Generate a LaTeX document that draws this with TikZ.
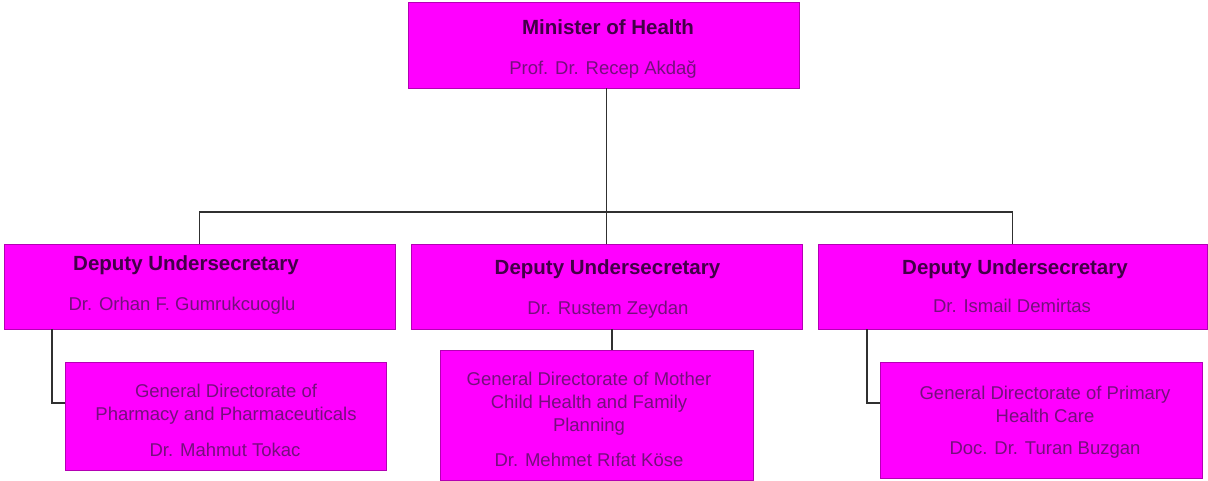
\documentclass[tikz,border=0pt]{standalone}
\usepackage{fontspec}
\setmainfont{Liberation Sans}
\definecolor{boxfill}{HTML}{FF00FF}
\definecolor{boxline}{HTML}{B400B4}
\definecolor{headtext}{HTML}{420048}
\definecolor{nametext}{HTML}{74107C}
\definecolor{wire}{HTML}{303030}
\tikzset{
  unit/.style={draw=boxline, line width=0.8pt, fill=boxfill, inner sep=0pt},
  head/.style={font=\fontsize{20.5}{23}\selectfont\bfseries, text=headtext, inner sep=0pt},
  who/.style={font=\fontsize{18.5}{22}\selectfont, text=nametext, inner sep=0pt, align=center},
  wireline/.style={draw=wire, line width=1.3pt}
}
\begin{document}
\begin{tikzpicture}[x=1pt,y=-1pt]
\useasboundingbox (0,0) rectangle (1208,481);
\fill[white] (0,0) rectangle (1208,481);

% boxes
\node[unit, minimum width=391pt, minimum height=86pt] (min) at (603.5,45) {};
\node[unit, minimum width=391pt, minimum height=85pt] (dl) at (199.5,286.5) {};
\node[unit, minimum width=391pt, minimum height=85pt] (dm) at (606.5,286.5) {};
\node[unit, minimum width=389pt, minimum height=85pt] (dr) at (1012.5,286.5) {};
\node[unit, minimum width=321pt, minimum height=108pt] (cl) at (225.5,416) {};
\node[unit, minimum width=313pt, minimum height=130pt] (cm) at (596.5,415) {};
\node[unit, minimum width=322pt, minimum height=116pt] (cr) at (1041,420) {};

% connectors
\coordinate (bar) at (606.5,212);
\draw[wireline] (min.south -| dm.north) -- (dm.north);
\draw[wireline] (dl.north) |- (bar) -| (dr.north);
\draw[wireline] (dl.south -| 52,0) |- ([yshift=13pt]cl.west);
\draw[wireline] (dm.south -| 612,0) -- (cm.north -| 612,0);
\draw[wireline] (dr.south -| 867,0) |- ([yshift=17pt]cr.west);

% texts
\node[head] (minh) at (608,27) {Minister of Health};
\node[who] (minn) at (603,70) {Prof. Dr. Recep Akdağ};

\node[head] (dlh) at (186,265) {Deputy Undersecretary};
\node[who] (dln) at (182,306) {Dr. Orhan F. Gumrukcuoglu};
\node[head] (dmh) at (607.5,269) {Deputy Undersecretary};
\node[who] (dmn) at (608,310) {Dr. Rustem Zeydan};
\node[head] (drh) at (1015,269) {Deputy Undersecretary};
\node[who] (drn) at (1012,306) {Dr. Ismail Demirtas};

\node[who] (clt) at (226,404) {General Directorate of\\[1pt]Pharmacy and Pharmaceuticals};
\node[who] (cln) at (225,450) {Dr. Mahmut Tokac};
\node[who] (cmt) at (589,404) {General Directorate of Mother\\[1pt]Child Health and Family\\[1pt]Planning};
\node[who] (cmn) at (589,460) {Dr. Mehmet Rıfat Köse};
\node[who] (crt) at (1045,404) {General Directorate of Primary\\[1pt]Health Care};
\node[who] (crn) at (1045,450) {Doc. Dr. Turan Buzgan};
\end{tikzpicture}
\end{document}
